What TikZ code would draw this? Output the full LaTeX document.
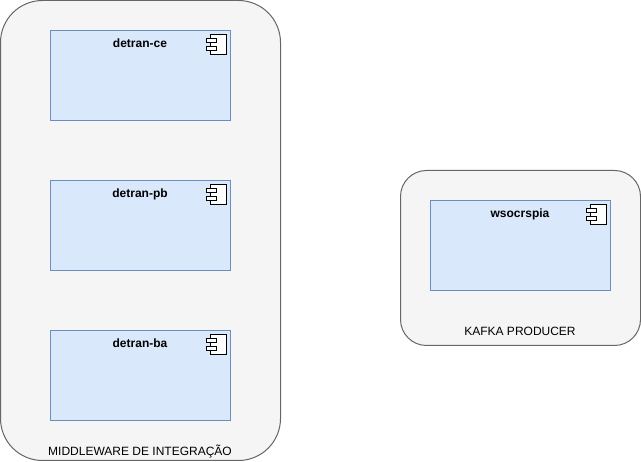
\documentclass[tikz,border=0pt]{standalone}
\usepackage{fontspec}
\setmainfont{Liberation Sans}
\definecolor{outerfill}{HTML}{F5F5F5}
\definecolor{outerline}{HTML}{666666}
\definecolor{boxfill}{HTML}{DAE8FC}
\definecolor{boxline}{HTML}{6C8EBF}
\tikzset{
  group/.style={draw=outerline,fill=outerfill,line width=1pt,rectangle,inner sep=0pt,outer sep=0pt},
  comp/.style={draw=boxline,fill=boxfill,line width=1pt,rectangle,inner sep=0pt,outer sep=0pt,minimum width=180pt,minimum height=90pt},
  iconpart/.style={draw=black,fill=white,line width=1pt,rectangle,inner sep=0pt,outer sep=0pt},
  title/.style={font=\fontsize{12}{14}\selectfont\bfseries,text=black,inner sep=0pt,anchor=base},
  caption/.style={font=\fontsize{12}{14}\selectfont,text=black,inner sep=0pt,anchor=base},
  pics/compicon/.style={code={
    \node[iconpart,minimum width=16pt,minimum height=20pt] at (8,10) {};
    \node[iconpart,minimum width=10pt,minimum height=4pt] at (1,6) {};
    \node[iconpart,minimum width=10pt,minimum height=4pt] at (1,14) {};
  }}
}
\begin{document}
\begin{tikzpicture}[x=1pt,y=-1pt]
\useasboundingbox (0,0) rectangle (641,462);
\node[group,minimum width=280pt,minimum height=460pt,rounded corners=42pt] (mid) at (140.5,230.5) {};
\node[group,minimum width=240pt,minimum height=175pt,rounded corners=26pt] (kafka) at (520.5,258) {};
\node[comp] (ce) at (140.5,75.5) {};
\node[comp] (pb) at (140.5,225.5) {};
\node[comp] (ba) at (140.5,375.5) {};
\node[comp] (ws) at (520.5,245.5) {};
\pic at (210.5,34.5) {compicon};
\pic at (210.5,184.5) {compicon};
\pic at (210.5,334.5) {compicon};
\pic at (590.5,204.5) {compicon};
\node[title] (tce) at (140,47.4) {detran-ce};
\node[title] (tpb) at (140,197.4) {detran-pb};
\node[title] (tba) at (140,347.4) {detran-ba};
\node[title] (tws) at (520,217.4) {wsocrspia};
\node[caption] (cmid) at (140,455.4) {MIDDLEWARE DE INTEGRAÇÃO};
\node[caption] (ckafka) at (520,335.4) {KAFKA PRODUCER};
\end{tikzpicture}
\end{document}
